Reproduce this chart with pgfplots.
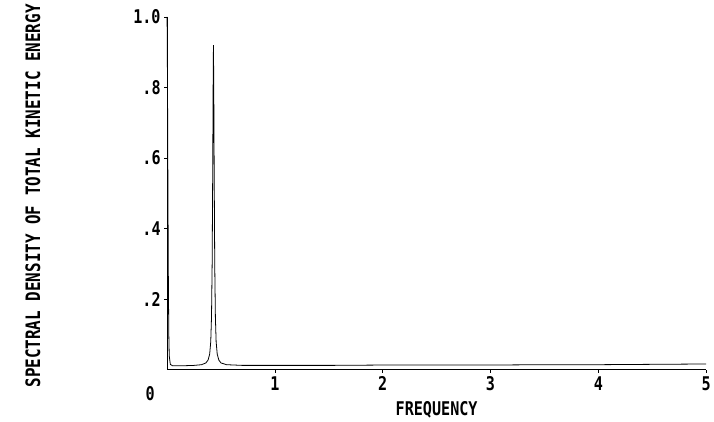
\documentclass[border=0pt]{standalone}
\usepackage{fontspec}
\setmainfont{DejaVu Sans Mono}[FakeStretch=0.8]
\usepackage{pgfplots}
\pgfplotsset{compat=1.18}
\begin{document}
\begin{tikzpicture}
\begin{axis}[
  name=ax,
  scale only axis,
  width=542bp, height=355bp,
  xmin=0, xmax=5, ymin=0, ymax=1.0,
  axis x line*=bottom, axis y line*=left,
  axis line style={-, line width=1pt},
  xtick={1,2,3,4,5},
  ytick={0.2,0.4,0.6,0.8,1.0},
  yticklabels={.2,.4,.6,.8,1.0},
  tick align=outside,
  major tick length=3bp,
  tick style={line width=0.8pt, black},
  /pgf/number format/assume math mode=true,
  ticklabel style={font=\fontsize{19bp}{21bp}\selectfont\bfseries},
  xlabel={FREQUENCY},
  xlabel style={font=\fontsize{19bp}{21bp}\selectfont\bfseries, at={(rel axis cs:0.5,0)}, anchor=north, yshift=-28bp},
  ylabel={SPECTRAL DENSITY OF TOTAL KINETIC ENERGY},
  ylabel style={font=\fontsize{20bp}{22bp}\selectfont\bfseries, at={(rel axis cs:-0.249,0.493)}, anchor=center, rotate=0},
  clip=false,
]
\addplot[black, line width=0.8pt] coordinates {
(0,1.0) (0.004,0.8) (0.008,0.5) (0.012,0.25) (0.016,0.1) (0.02,0.04) (0.03,0.016) (0.05,0.012)
(0.15,0.012) (0.25,0.013) (0.32,0.015) (0.36,0.02) (0.38,0.028) (0.395,0.045) (0.405,0.08)
(0.412,0.15) (0.418,0.3) (0.423,0.55) (0.427,0.8) (0.43,0.92) (0.433,0.8) (0.437,0.55)
(0.442,0.3) (0.448,0.15) (0.455,0.08) (0.465,0.045) (0.48,0.028) (0.5,0.02) (0.55,0.015)
(0.7,0.013) (1.0,0.013) (1.5,0.013) (2.0,0.014) (2.5,0.014) (3.0,0.014) (3.5,0.015) (4.0,0.015) (4.5,0.016) (5.0,0.017)
};
\node[font=\fontsize{19bp}{21bp}\selectfont\bfseries] at ([xshift=-17bp,yshift=-24bp]axis cs:0,0) {0};
\end{axis}
\path (ax.south west) ++(-168bp,-52bp) rectangle ++(714bp,424bp);
\end{tikzpicture}
\end{document}
